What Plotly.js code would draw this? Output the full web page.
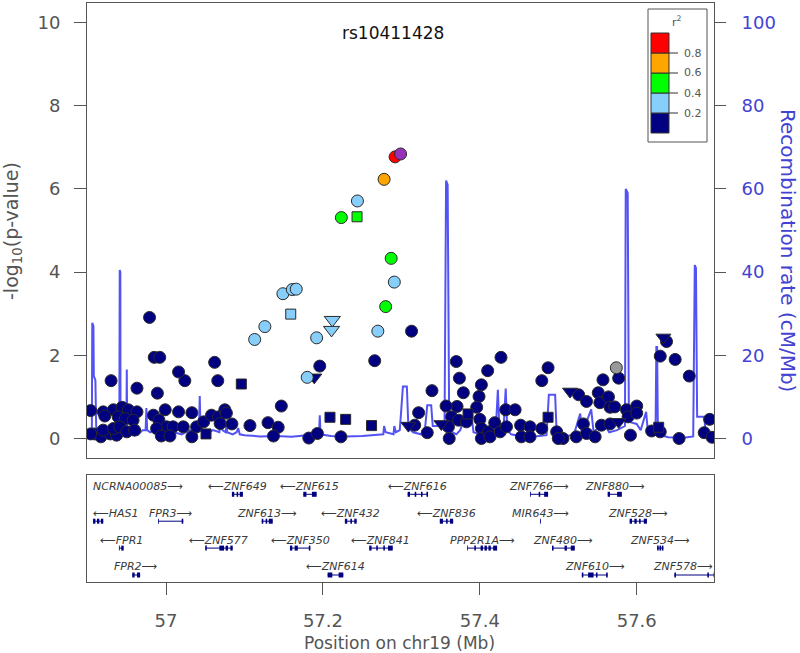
<!DOCTYPE html>
<html>
<head>
<meta charset="utf-8">
<script src="https://cdn.plot.ly/plotly-3.0.1.min.js"></script>
<style>body{margin:0;background:#fff;} #chart{width:800px;height:653px;}</style>
</head>
<body>
<div id="chart"></div>
<script>
// SNPs by LD colour and marker shape (position in Mb, -log10 p)
var navyCircPos = [57.313, 57.266, 57.196, 57.062, 57.066, 57.024, 56.979, 56.985, 56.992, 56.930,
  56.963, 56.989, 57.016, 57.147,
  56.904, 56.920, 56.933, 56.944, 56.952, 56.963, 56.922, 56.939, 56.948, 56.958,
  56.909, 56.917, 56.929, 56.937, 56.920, 56.933, 56.941, 56.950, 56.960, 56.984,
  56.999, 57.016, 57.033, 56.991, 57.001, 57.009, 57.022, 56.988, 56.994, 57.005,
  57.033, 57.039, 57.048, 57.058, 57.067, 57.075, 57.077, 57.069, 57.084, 57.107,
  57.130, 57.143, 57.137, 57.182, 57.193, 57.223, 56.904,
  57.370, 57.374, 57.379, 57.371, 57.357, 57.364, 57.373, 57.360, 57.361, 57.339,
  57.322, 57.317, 57.333, 57.410, 57.427, 57.402, 57.399, 57.396, 57.383, 57.400,
  57.402, 57.402, 57.411, 57.419, 57.413, 57.426, 57.433, 57.445, 57.434, 57.452,
  57.464, 57.453, 57.464, 57.479, 57.487, 57.479, 57.498, 57.506, 57.500, 57.523,
  57.532, 57.536, 57.547, 57.526, 57.536, 57.551, 57.557, 57.553, 57.564, 57.566,
  57.572, 57.577, 57.555, 57.566, 57.587, 57.600, 57.589, 57.600, 57.592, 57.619,
  57.630, 57.638, 57.630, 57.649, 57.667, 57.654, 57.693, 57.686, 57.696];
var navyCircLogP = [2.58, 1.87, 1.74, 1.83, 1.39, 1.39, 2.91, 1.95, 1.95, 1.39,
  1.21, 1.09, 1.60, 0.78,
  0.67, 0.64, 0.69, 0.75, 0.69, 0.64, 0.54, 0.52, 0.48, 0.44,
  0.11, 0.04, 0.11, 0.08, 0.20, 0.24, 0.28, 0.16, 0.20, 0.56,
  0.69, 0.64, 0.62, 0.44, 0.28, 0.28, 0.28, 0.24, 0.06, 0.06,
  0.04, 0.28, 0.40, 0.56, 0.52, 0.69, 0.61, 0.36, 0.35, 0.31,
  0.38, 0.27, 0.06, 0.01, 0.12, 0.04, 0.11,
  1.85, 1.45, 1.10, 0.77, 0.78, 0.52, 0.44, 0.28, 0.00, 1.15,
  0.62, 0.32, 0.14, 1.63, 1.95, 1.29, 1.01, 0.75, 0.40, 0.46,
  0.24, 0.00, 0.16, 0.38, 0.04, 0.16, 0.69, 0.69, 0.28, 0.32,
  0.28, 0.04, 0.04, 1.39, 1.70, 0.24, 0.16, 0.00, 0.00, 0.04,
  0.35, 0.12, 0.04, 1.05, 0.89, 1.10, 1.41, 0.86, 1.00, 0.75,
  0.76, 1.45, 0.32, 0.35, 0.69, 0.78, 0.52, 0.61, 0.08, 0.18,
  0.16, 2.33, 1.98, 1.90, 1.50, 0.00, 0.46, 0.14, 0.03];
var navySqPos = [57.096, 57.051, 57.209, 57.229, 57.262, 57.385, 57.487, 57.628];
var navySqLogP = [1.31, 0.11, 0.51, 0.46, 0.31, 0.59, 0.51, 0.27];
var navyTriPos = [57.189, 57.309, 57.351, 57.515, 57.577, 57.634];
var navyTriLogP = [1.47, 0.31, 0.35, 1.13, 0.40, 2.43];
var grayPos = [57.574];
var grayLogP = [1.70];
var ltBlueCircPos = [57.244, 57.291, 57.270, 57.149, 57.161, 57.166, 57.126, 57.113, 57.192, 57.180];
var ltBlueCircLogP = [5.71, 3.76, 2.58, 3.48, 3.58, 3.59, 2.69, 2.38, 2.42, 1.47];
var ltBlueSqPos = [57.159];
var ltBlueSqLogP = [2.99];
var ltBlueTriPos = [57.212, 57.211];
var ltBlueTriLogP = [2.85, 2.61];
var greenCircPos = [57.2235, 57.287, 57.280];
var greenCircLogP = [5.31, 4.33, 3.17];
var greenSqPos = [57.2435];
var greenSqLogP = [5.33];
var orangePos = [57.278];
var orangeLogP = [6.23];
var redPos = [57.292];
var redLogP = [6.77];
var indexSnp = "rs10411428";
var indexPos = [57.299];
var indexLogP = [6.84];

// recombination rate (cM/Mb)
var recombPos = [56.899, 56.903, 56.9055, 56.906, 56.9075, 56.908, 56.910, 56.911, 56.914, 56.920,
  56.925, 56.930, 56.935, 56.9405, 56.941, 56.9418, 56.942, 56.945, 56.9495, 56.950,
  56.9505, 56.955, 56.960, 56.965, 56.970, 56.974, 56.975, 56.976, 56.980, 56.985,
  56.990, 56.995, 57.000, 57.010, 57.020, 57.030, 57.040, 57.042, 57.043, 57.044,
  57.050, 57.060, 57.068, 57.070, 57.072, 57.076, 57.077, 57.078, 57.085, 57.090,
  57.092, 57.094, 57.100, 57.120, 57.140, 57.160, 57.180, 57.195, 57.196, 57.197,
  57.210, 57.230, 57.250, 57.270, 57.277, 57.278, 57.280, 57.290, 57.291, 57.293,
  57.298, 57.302, 57.307, 57.309, 57.315, 57.325, 57.330, 57.333, 57.338, 57.340,
  57.350, 57.355, 57.357, 57.359, 57.361, 57.365, 57.370, 57.375, 57.380, 57.390,
  57.392, 57.400, 57.410, 57.420, 57.423, 57.425, 57.430, 57.433, 57.435, 57.440,
  57.450, 57.470, 57.485, 57.488, 57.496, 57.498, 57.510, 57.520, 57.528, 57.530,
  57.542, 57.545, 57.550, 57.560, 57.565, 57.575, 57.585, 57.586, 57.5885, 57.590,
  57.600, 57.605, 57.612, 57.614, 57.620, 57.624, 57.625, 57.626, 57.627, 57.640,
  57.660, 57.672, 57.674, 57.6755, 57.677, 57.686, 57.688, 57.698];
var recombRate = [0.8, 1, 2, 27.8, 27, 15, 14, 3, 1.2, 1.5,
  1, 2, 1.5, 2, 40.5, 40, 3, 2.5, 2, 16.6,
  2, 1.5, 2.5, 1, 2, 2, 7.3, 2, 1.5, 2,
  1, 2.5, 1, 1.5, 1, 2, 1.5, 2, 10.2, 2,
  1, 2, 1.5, 5.5, 2, 1.5, 4, 1.5, 1, 1.5,
  2.5, 1, 0.8, 0.5, 0.6, 0.4, 0.8, 1, 5.6, 1,
  0.6, 0.5, 0.6, 0.8, 1, 3, 1.5, 1, 3, 1.5,
  2, 12.5, 12.5, 2.5, 1.5, 1, 2, 8, 8, 3,
  3, 2, 62, 61, 3, 1.5, 1, 2, 4.5, 4.5,
  1.5, 1, 1.5, 1, 11.7, 2, 1.5, 12, 2, 1,
  0.6, 0.5, 0.8, 10.5, 10.5, 1, 0.5, 1, 6, 1,
  7, 1.5, 2.5, 3, 1.5, 2, 3, 60, 59, 4,
  3.5, 2, 6.4, 2, 1, 1.5, 22, 22, 1, 0.3,
  0.2, 0.5, 41.7, 41, 5.2, 5.2, 1.5, 1.2];

// genes
var geneName = ["NCRNA00085", "ZNF649", "ZNF615", "ZNF616", "ZNF766", "ZNF880",
  "HAS1", "FPR3", "ZNF613", "ZNF432", "ZNF836", "MIR643", "ZNF528",
  "FPR1", "ZNF577", "ZNF350", "ZNF841", "PPP2R1A", "ZNF480", "ZNF534",
  "FPR2", "ZNF614", "ZNF610", "ZNF578"];
var geneRow = [1, 1, 1, 1, 1, 1, 2, 2, 2, 2, 2, 2, 2, 3, 3, 3, 3, 3, 3, 3, 4, 4, 4, 4];
var geneStrand = ["+", "-", "-", "-", "+", "+", "-", "+", "+", "-", "-", "+", "+",
  "-", "-", "-", "-", "+", "+", "+", "+", "-", "+", "+"];
var geneExons = [
  [[56.840, 56.845], [56.855, 56.860]],
  [[57.084, 57.087], [57.090, 57.092], [57.094, 57.098]],
  [[57.175, 57.179], [57.186, 57.192]],
  [[57.308, 57.311], [57.317, 57.319], [57.325, 57.327], [57.332, 57.334]],
  [[57.464, 57.465], [57.475, 57.477], [57.482, 57.487]],
  [[57.563, 57.566], [57.575, 57.581]],
  [[56.907, 56.910], [56.912, 56.915], [56.917, 56.920]],
  [[56.990, 56.991], [57.020, 57.022]],
  [[57.122, 57.124], [57.127, 57.129], [57.131, 57.136]],
  [[57.228, 57.231], [57.235, 57.237], [57.240, 57.243]],
  [[57.349, 57.353], [57.357, 57.359], [57.362, 57.366]],
  [[57.4767, 57.4777]],
  [[57.591, 57.594], [57.597, 57.600], [57.603, 57.605], [57.609, 57.613]],
  [[56.940, 56.941], [56.943, 56.946]],
  [[57.050, 57.052], [57.068, 57.074], [57.076, 57.079], [57.082, 57.085]],
  [[57.158, 57.161], [57.164, 57.168], [57.182, 57.184]],
  [[57.259, 57.262], [57.268, 57.270], [57.277, 57.279], [57.283, 57.289]],
  [[57.384, 57.385], [57.393, 57.395], [57.401, 57.404], [57.406, 57.409], [57.411, 57.414], [57.417, 57.422]],
  [[57.492, 57.494], [57.508, 57.511], [57.516, 57.521]],
  [[57.626, 57.628], [57.629, 57.631], [57.632, 57.634]],
  [[56.957, 56.960], [56.963, 56.967]],
  [[57.206, 57.212], [57.220, 57.226]],
  [[57.530, 57.532], [57.538, 57.545], [57.548, 57.550], [57.561, 57.563]],
  [[57.648, 57.650], [57.690, 57.692], [57.698, 57.702]]
];

// LD legend
var ldBreaks = ["0.2", "0.4", "0.6", "0.8"];
var ldColors = ["#000080", "#87CEFA", "#00FF00", "#FFA500", "#FF0000"];

var xRange = [56.8993, 57.6985];
var FONT = "DejaVu Sans, Liberation Sans, sans-serif";
var GREY = "#555555";
var BLUE = "#4343d3";

function PX(px) { return (px - 87) / 627; }
function PY(py) { return (582 - py) / 579; }

function snpTrace(x, y, color, symbol, size) {
  return {
    type: "scatter", mode: "markers", x: x, y: y, xaxis: "x", yaxis: "y2",
    marker: { color: color, symbol: symbol, size: size || 12, line: { color: "#2a2a2a", width: 1 } },
    hoverinfo: "x+y", showlegend: false
  };
}

var data = [];
data.push({
  type: "scatter", mode: "lines", x: recombPos, y: recombRate, xaxis: "x", yaxis: "y",
  line: { color: "rgba(40,40,240,0.8)", width: 2 }, showlegend: false, hoverinfo: "skip"
});
data.push(snpTrace(navyCircPos, navyCircLogP, ldColors[0], "circle"));
data.push(snpTrace(navySqPos, navySqLogP, ldColors[0], "square", 10));
data.push(snpTrace(navyTriPos, navyTriLogP, ldColors[0], "triangle-down", 13));
data.push(snpTrace(grayPos, grayLogP, "#999999", "circle"));
data.push(snpTrace(ltBlueCircPos, ltBlueCircLogP, ldColors[1], "circle"));
data.push(snpTrace(ltBlueSqPos, ltBlueSqLogP, ldColors[1], "square", 10));
data.push(snpTrace(ltBlueTriPos, ltBlueTriLogP, ldColors[1], "triangle-down", 14));
data.push(snpTrace(greenCircPos, greenCircLogP, ldColors[2], "circle"));
data.push(snpTrace(greenSqPos, greenSqLogP, ldColors[2], "square", 10));
data.push(snpTrace(orangePos, orangeLogP, ldColors[3], "circle"));
data.push(snpTrace(redPos, redLogP, ldColors[4], "circle"));
data.push(snpTrace(indexPos, indexLogP, "#9632B8", "circle"));

// gene track
var intronX = [], intronY = [], exonX = [], exonY = [];
var annotations = [];
var pxPerMb = 627 / (xRange[1] - xRange[0]);
for (var i = 0; i < geneName.length; i++) {
  var ex = geneExons[i];
  var gs = ex[0][0], ge = ex[ex.length - 1][1];
  intronX.push(gs, ge, null); intronY.push(geneRow[i], geneRow[i], null);
  for (var k = 0; k < ex.length; k++) {
    exonX.push(ex[k][0], ex[k][1], null); exonY.push(geneRow[i], geneRow[i], null);
  }
  var label = geneStrand[i] === "+" ? geneName[i] + "\u27F6" : "\u27F5" + geneName[i];
  var half = (geneName[i].length * 7.2 + 16) / 2 / pxPerMb;
  var mid = (gs + ge) / 2;
  mid = Math.max(mid, xRange[0] + 7 / pxPerMb + half);
  mid = Math.min(mid, xRange[1] - 1 / pxPerMb - half);
  annotations.push({
    xref: "x2", yref: "y3", x: mid, y: geneRow[i] - 0.3, text: "<i>" + label + "</i>",
    showarrow: false, xanchor: "center", yanchor: "middle",
    font: { family: FONT, size: 11, color: "#3a3a3a" }
  });
}
data.push({
  type: "scatter", mode: "lines", x: intronX, y: intronY, xaxis: "x2", yaxis: "y3",
  line: { color: "#000080", width: 1 }, connectgaps: false, showlegend: false, hoverinfo: "skip"
});
data.push({
  type: "scatter", mode: "lines", x: exonX, y: exonY, xaxis: "x2", yaxis: "y3",
  line: { color: "#000080", width: 5 }, connectgaps: false, showlegend: false, hoverinfo: "skip"
});

// titles
function note(px, py, text, size, color, angle) {
  return { xref: "paper", yref: "paper", x: PX(px), y: PY(py), text: text, showarrow: false,
    xanchor: "center", yanchor: "middle", textangle: angle || 0,
    font: { family: FONT, size: size, color: color } };
}
annotations.push(note(393, 33, indexSnp, 17, "#111"));
annotations.push(note(13, 231, "-log<sub>10</sub>(p-value)", 19, GREY, -90));
annotations.push(note(788, 250, "Recombination rate (cM/Mb)", 20, BLUE, 90));
annotations.push(note(399, 643, "Position on chr19 (Mb)", 17, GREY));

// LD legend
var shapes = [];
shapes.push({ type: "rect", xref: "paper", yref: "paper", x0: PX(648), x1: PX(707), y0: PY(142), y1: PY(9),
  line: { color: GREY, width: 1 }, fillcolor: "#fff" });
for (var c = 0; c < ldColors.length; c++) {
  var boxTop = 33 + (4 - c) * 20;
  shapes.push({ type: "rect", xref: "paper", yref: "paper", x0: PX(651), x1: PX(669),
    y0: PY(boxTop + 20), y1: PY(boxTop), line: { color: "#333", width: 1 }, fillcolor: ldColors[c] });
}
for (var b = 0; b < ldBreaks.length; b++) {
  var yy = 113 - b * 20;
  shapes.push({ type: "line", xref: "paper", yref: "paper", x0: PX(669), x1: PX(678), y0: PY(yy), y1: PY(yy),
    line: { color: "#333", width: 1 } });
  var lab = note(693, yy, ldBreaks[b], 11, GREY);
  annotations.push(lab);
}
annotations.push(note(677, 22, "r<sup>2</sup>", 11, GREY));

var layout = {
  width: 800, height: 653,
  margin: { l: 87, r: 86, t: 3, b: 71 },
  paper_bgcolor: "#fff", plot_bgcolor: "#fff",
  showlegend: false,
  xaxis: { domain: [0, 1], range: xRange, anchor: "y", showline: true, mirror: true, linecolor: GREY,
    showticklabels: false, ticks: "", showgrid: false, zeroline: false },
  yaxis: { domain: [0.2133, 1], range: [-4.81, 104.69], side: "right", anchor: "x",
    tickvals: [0, 20, 40, 60, 80, 100], ticks: "outside", ticklen: 11, tickcolor: GREY,
    showline: true, linecolor: GREY, showgrid: false, zeroline: false, ticklabelstandoff: 12,
    tickfont: { family: FONT, size: 18, color: BLUE } },
  yaxis2: { overlaying: "y", side: "left", range: [-0.481, 10.469], anchor: "x",
    tickvals: [0, 2, 4, 6, 8, 10], ticks: "outside", ticklen: 12, tickcolor: GREY,
    showline: true, linecolor: GREY, showgrid: false, zeroline: false, ticklabelstandoff: 10,
    tickfont: { family: FONT, size: 18, color: GREY } },
  xaxis2: { domain: [0, 1], anchor: "y3", matches: "x", range: xRange, showline: true, mirror: true,
    linecolor: GREY, ticks: "outside", ticklen: 12, tickcolor: GREY, showgrid: false, zeroline: false,
    tickvals: [57, 57.2, 57.4, 57.6], ticktext: ["57", "57.2", "57.4", "57.6"], ticklabelstandoff: 10,
    tickfont: { family: FONT, size: 18, color: GREY } },
  yaxis3: { domain: [0, 0.1848], anchor: "x2", range: [4.26, 0.283], showline: true, mirror: true,
    linecolor: GREY, ticks: "", showticklabels: false, showgrid: false, zeroline: false },
  annotations: annotations,
  shapes: shapes
};

Plotly.newPlot("chart", data, layout, { displayModeBar: false, responsive: false });
</script>
</body>
</html>
